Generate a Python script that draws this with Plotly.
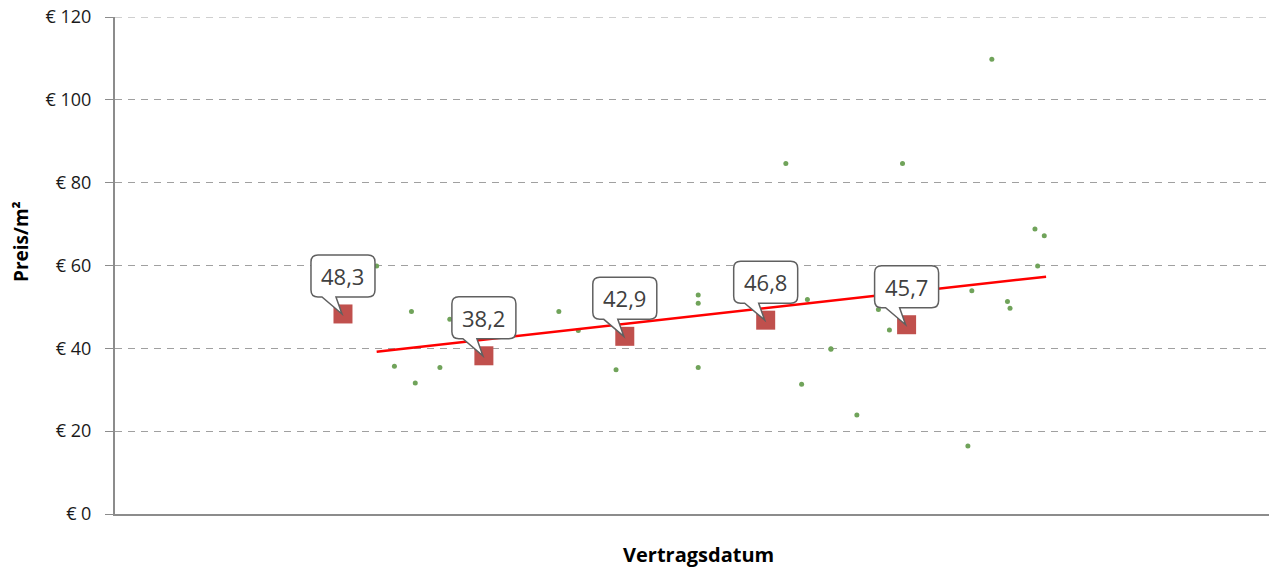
import plotly.graph_objects as go

# ---- data ----
avg_year = [2012.5, 2013.5, 2014.5, 2015.5, 2016.5]
avg_price = [48.3, 38.2, 42.9, 46.8, 45.7]
avg_labels = ["48,3", "38,2", "42,9", "46,8", "45,7"]

deal_date = [2012.739, 2012.865, 2012.986, 2013.013, 2013.188, 2013.258,
             2014.032, 2014.170, 2014.438, 2015.021, 2015.021, 2015.021,
             2015.643, 2015.755, 2015.796, 2015.963, 2015.963, 2016.147,
             2016.300, 2016.378, 2016.471, 2016.935, 2016.963, 2017.105,
             2017.216, 2017.234, 2017.411, 2017.430, 2017.477]
deal_price = [59.9, 35.7, 48.9, 31.6, 35.4, 47.0,
              48.9, 44.3, 34.8, 52.9, 50.9, 35.4,
              84.6, 31.3, 51.8, 39.8, 39.9, 23.9,
              49.4, 44.4, 84.6, 16.4, 53.9, 109.8,
              51.3, 49.7, 68.8, 59.9, 67.2]

trend_x = [2012.739, 2017.490]
trend_y = [39.2, 57.3]

y_tick_vals = [0, 20, 40, 60, 80, 100, 120]
y_tick_labels = ["€ 0", "€ 20", "€ 40", "€ 60", "€ 80", "€ 100", "€ 120"]

x_title = "Vertragsdatum"
y_title = "Preis/m²"

GRID_COLOR = "#a0a0a0"
GRID_DASH = "7px,6px"

# ---- figure ----
fig = go.Figure()

fig.add_trace(go.Scatter(
    x=deal_date, y=deal_price, mode="markers",
    marker=dict(size=5, color="#70a35a", line=dict(width=0)),
    hoverinfo="x+y", showlegend=False))

fig.add_trace(go.Scatter(
    x=trend_x, y=trend_y, mode="lines",
    line=dict(color="#ff0000", width=2.5),
    hoverinfo="skip", showlegend=False))

fig.add_trace(go.Scatter(
    x=avg_year, y=avg_price, mode="markers",
    marker=dict(symbol="square", size=19, color="#c0504d", line=dict(width=0)),
    showlegend=False))

# top gridline (plotly omits the grid line lying on the plot edge)
fig.add_shape(type="line", xref="paper", yref="y", x0=0, x1=1,
              y0=y_tick_vals[-1], y1=y_tick_vals[-1],
              line=dict(color=GRID_COLOR, width=1.2, dash=GRID_DASH), layer="below")

# callout bubbles (box + tail), in pixels relative to each square
L, R, B, T, r = -32, 32, 17, 59, 7
callout_path = (
    f"M {L+r},{T} L {R-r},{T} Q {R},{T} {R},{T-r} L {R},{B+r} Q {R},{B} {R-r},{B} "
    f"L -7,{B} L -1,0 L -21,{B} L {L+r},{B} Q {L},{B} {L},{B+r} L {L},{T-r} Q {L},{T} {L+r},{T} Z"
)
for xv, yv, lab in zip(avg_year, avg_price, avg_labels):
    fig.add_shape(type="path", xref="x", yref="y",
                  xsizemode="pixel", ysizemode="pixel",
                  xanchor=xv, yanchor=yv, path=callout_path,
                  fillcolor="white", line=dict(color="#606060", width=1.5),
                  layer="above")
    fig.add_annotation(x=xv, y=yv, xref="x", yref="y", text=lab,
                       showarrow=False, yshift=38, xshift=0,
                       font=dict(family="Open Sans", size=22, color="#404040"))

# axis titles as annotations (positioned like the reference)
fig.add_annotation(text=f"<b>{x_title}</b>", xref="paper", yref="paper",
                   x=(698 - 115) / 1154, y=-(554 - 514) / 497,
                   xanchor="center", yanchor="middle", showarrow=False,
                   font=dict(family="Open Sans", size=20, color="#000000"))
fig.add_annotation(text=f"<b>{y_title}</b>", xref="paper", yref="paper",
                   x=-(115 - 21) / 1154, y=(514 - 241) / 497,
                   xanchor="center", yanchor="middle", showarrow=False,
                   textangle=-90,
                   font=dict(family="Open Sans", size=19, color="#000000"))

fig.update_layout(
    width=1269, height=569,
    margin=dict(l=115, r=0, t=17, b=55, autoexpand=False),
    paper_bgcolor="white", plot_bgcolor="white",
    font=dict(family="Open Sans", color="#000000"),
    xaxis=dict(range=[2010.882, 2019.072], showgrid=False, zeroline=False,
               showticklabels=False, ticks="", showline=True, automargin=False,
               linecolor="#8c8c8c", linewidth=2, fixedrange=True),
    yaxis=dict(range=[0, 120], tickvals=y_tick_vals, ticktext=y_tick_labels,
               showgrid=True, gridcolor=GRID_COLOR, gridwidth=1.2, griddash=GRID_DASH,
               zeroline=False, showline=True, linecolor="#8c8c8c", linewidth=2,
               ticks="outside", ticklen=8, tickcolor="#8c8c8c", tickwidth=1,
               ticklabelstandoff=10, automargin=False,
               tickfont=dict(family="Open Sans", size=18, color="#1a1a1a"),
               fixedrange=True),
)

# remove the browser's default 8px body margin so the figure fills the window
fig.write_html("out.html",
               config={"displayModeBar": False},
               post_script="document.body.style.margin='0px';"
                           "document.body.style.overflow='hidden';")
